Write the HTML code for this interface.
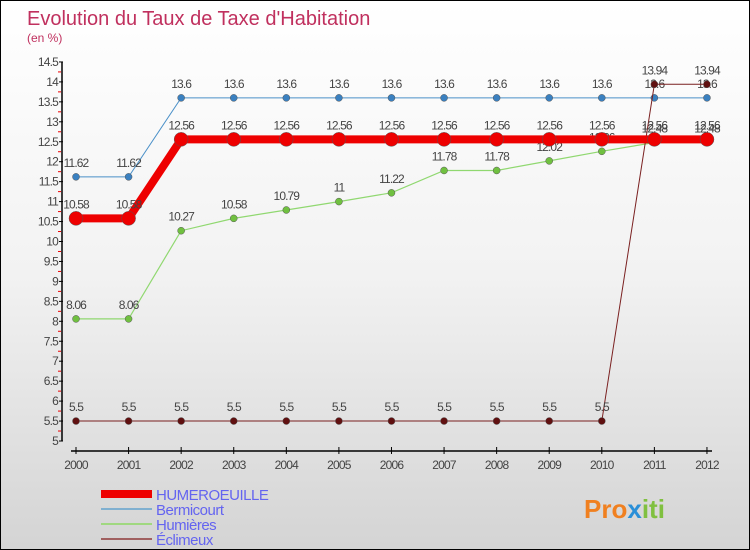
<!DOCTYPE html>
<html><head><meta charset="utf-8"><style>
body{margin:0}
#c{position:relative;width:750px;height:550px;box-sizing:border-box;border:1px solid #000;background:linear-gradient(#fff 0%,#f2f2f2 50%,#d4d4d4 100%);font-family:"Liberation Sans",sans-serif;overflow:hidden}
</style></head><body>
<div id="c">
<svg width="750" height="550" style="position:absolute;left:0;top:0" id="s">
<text x="26" y="24" font-size="20" fill="#c0305e">Evolution du Taux de Taxe d'Habitation</text>
<text x="26" y="41" font-size="12" fill="#c0305e">(en %)</text>
<g id="axes"></g><g id="series"></g><g id="legend"></g>
<text x="583" y="517" font-size="26" font-weight="bold" fill="#f08020">Pro<tspan fill="#2a8fd8">x</tspan><tspan fill="#80c040">iti</tspan></text>
</svg>
</div>
<script>
const years=[2000,2001,2002,2003,2004,2005,2006,2007,2008,2009,2010,2011,2012];
const yTicks=[5,5.5,6,6.5,7,7.5,8,8.5,9,9.5,10,10.5,11,11.5,12,12.5,13,13.5,14,14.5];
const seriesNames=["HUMEROEUILLE","Bermicourt","Humières","Éclimeux"];
const humeroeuille=[10.58,10.58,12.56,12.56,12.56,12.56,12.56,12.56,12.56,12.56,12.56,12.56,12.56];
const bermicourt=[11.62,11.62,13.6,13.6,13.6,13.6,13.6,13.6,13.6,13.6,13.6,13.6,13.6];
const humieres=[8.06,8.06,10.27,10.58,10.79,11,11.22,11.78,11.78,12.02,12.26,12.48,12.48];
const eclimeux=[5.5,5.5,5.5,5.5,5.5,5.5,5.5,5.5,5.5,5.5,5.5,13.94,13.94];
const NS="http://www.w3.org/2000/svg";
const X=i=>75+i*52.58, Y=v=>440-(v-5)*39.9;
function mk(t,a,p){const e=document.createElementNS(NS,t);for(const k in a)e.setAttribute(k,a[k]);p.appendChild(e);return e;}
const ax=document.getElementById('axes');
const yl=mk('line',{x1:61,y1:61,x2:61,y2:440,stroke:'#000','stroke-width':1.5},ax);

yTicks.forEach(v=>{const y=Y(v);mk('line',{x1:58,y1:y,x2:62,y2:y,stroke:'#000'},ax);
 if(v<14.5)mk('line',{x1:57,y1:Y(v+0.25),x2:60,y2:Y(v+0.25),stroke:'#e00'},ax);
 const t=mk('text',{x:57,y:y+4,'font-size':12,fill:'#444','text-anchor':'end','letter-spacing':'-0.8'},ax);t.textContent=String(v);
 });
const xl=mk('line',{x1:70,y1:450,x2:711,y2:450,stroke:'#000','stroke-width':1.5},ax);

years.forEach((yr,i)=>{mk('line',{x1:X(i),y1:446,x2:X(i),y2:453,stroke:'#000'},ax);
 const t=mk('text',{x:X(i),y:468,'font-size':12,fill:'#444','text-anchor':'middle','letter-spacing':'-0.8'},ax);t.textContent=yr;
 });
const sg=document.getElementById('series');
const defs=[[bermicourt,'#4a90c8','#3a80c0',1,3.5],[humieres,'#90d870','#70c040',1.2,3.5],[eclimeux,'#7a2020','#601010',1,3.5],[humeroeuille,'#ee0000','#ee0000',8,7]];
const order=[1,2,3,0];
defs.forEach((d,k)=>{const [vals,lc,mc,w,r]=d;const g=mk('g',{},sg);
 
 mk('polyline',{points:vals.map((v,i)=>X(i)+','+Y(v)).join(' '),fill:'none',stroke:lc,'stroke-width':w},g);
 vals.forEach((v,i)=>{const c=mk('circle',{cx:X(i),cy:Y(v),r:r,fill:mc,stroke:'#555','stroke-width':0.5},g);
  
  const t=mk('text',{x:X(i),y:Y(v)-10,'font-size':12,fill:'#444','text-anchor':'middle','letter-spacing':'-0.9'},g);t.textContent=String(v);});});
const lg=document.getElementById('legend');
const lc=[['#ee0000',8],['#80b0d0',2],['#a0d880',2],['#a06060',2]];
seriesNames.forEach((n,i)=>{const y=493+i*15;const g=mk('g',{},lg);
 
 mk('line',{x1:100,y1:y,x2:151,y2:y,stroke:lc[i][0],'stroke-width':lc[i][1]},g);
 const t=mk('text',{x:155,y:y+6,'font-size':15,fill:'#6464f0','letter-spacing':'-0.5'},g);t.textContent=n;});
</script>
</body></html>
